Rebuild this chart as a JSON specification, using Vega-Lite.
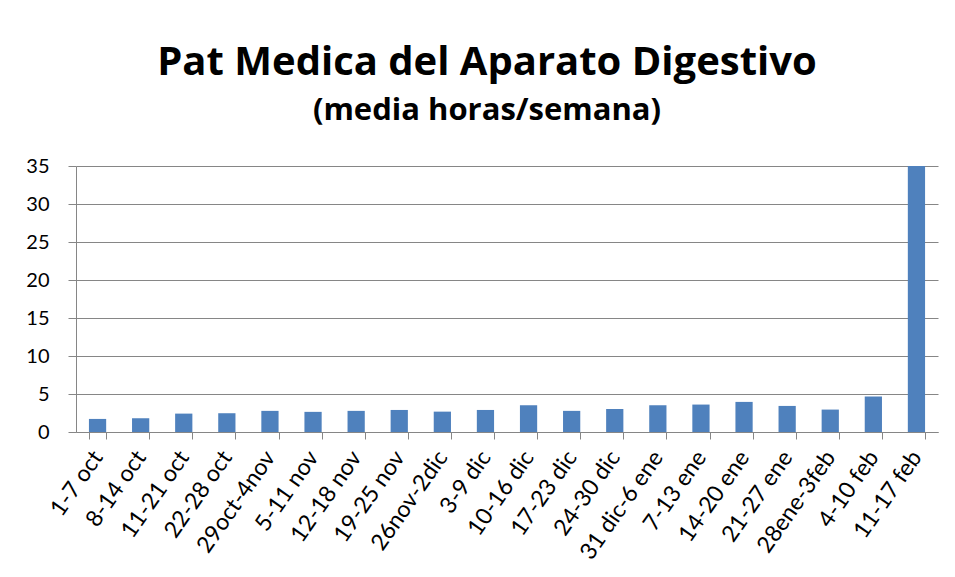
{
  "$schema": "https://vega.github.io/schema/vega-lite/v6.json",
  "autosize": "none",
  "width": 862,
  "height": 266,
  "padding": {"left": 76, "top": 166, "right": 17, "bottom": 145},
  "background": "white",
  "title": {
    "text": "Pat Medica del Aparato Digestivo",
    "subtitle": "(media horas/semana)",
    "anchor": "middle",
    "frame": "group",
    "dx": -20,
    "offset": 30,
    "font": "Open Sans",
    "fontSize": 40,
    "fontWeight": "bold",
    "color": "black",
    "subtitleFont": "Open Sans",
    "subtitleFontSize": 31,
    "subtitleFontWeight": "bold",
    "subtitleColor": "black",
    "subtitlePadding": 13
  },
  "data": {
    "values": [
      {"semana": "1-7 oct", "horas": 1.72},
      {"semana": "8-14 oct", "horas": 1.81},
      {"semana": "11-21 oct", "horas": 2.42},
      {"semana": "22-28 oct", "horas": 2.47},
      {"semana": "29oct-4nov", "horas": 2.78},
      {"semana": "5-11 nov", "horas": 2.65},
      {"semana": "12-18 nov", "horas": 2.78},
      {"semana": "19-25 nov", "horas": 2.9},
      {"semana": "26nov-2dic", "horas": 2.68},
      {"semana": "3-9 dic", "horas": 2.9},
      {"semana": "10-16 dic", "horas": 3.52},
      {"semana": "17-23 dic", "horas": 2.78},
      {"semana": "24-30 dic", "horas": 3.03},
      {"semana": "31 dic-6 ene", "horas": 3.52},
      {"semana": "7-13 ene", "horas": 3.61},
      {"semana": "14-20 ene", "horas": 3.96},
      {"semana": "21-27 ene", "horas": 3.43},
      {"semana": "28ene-3feb", "horas": 2.95},
      {"semana": "4-10 feb", "horas": 4.67},
      {"semana": "11-17 feb", "horas": 35}
    ]
  },
  "mark": {"type": "bar", "color": "#4F81BD", "clip": true},
  "encoding": {
    "x": {
      "field": "semana",
      "type": "nominal",
      "sort": null,
      "scale": {"paddingInner": 0.6, "paddingOuter": 0.3},
      "axis": {
        "title": null,
        "labelAngle": -55,
        "labelAlign": "right",
        "labelBaseline": "middle",
        "labelFont": "Lato",
        "labelFontSize": 23,
        "labelColor": "black",
        "labelPadding": 14,
        "tickBand": "extent",
        "tickSize": 7,
        "tickColor": "#868686",
        "domainColor": "#868686",
        "labelOverlap": false
      }
    },
    "y": {
      "field": "horas",
      "type": "quantitative",
      "scale": {"domain": [0, 35], "nice": false},
      "axis": {
        "title": null,
        "values": [0, 5, 10, 15, 20, 25, 30, 35],
        "labelFont": "Lato",
        "labelFontSize": 20,
        "labelColor": "black",
        "labelPadding": 19,
        "tickSize": 8,
        "tickColor": "#868686",
        "domainColor": "#868686",
        "gridColor": "#868686",
        "gridOpacity": 1
      }
    }
  },
  "config": {"view": {"stroke": null}}
}
